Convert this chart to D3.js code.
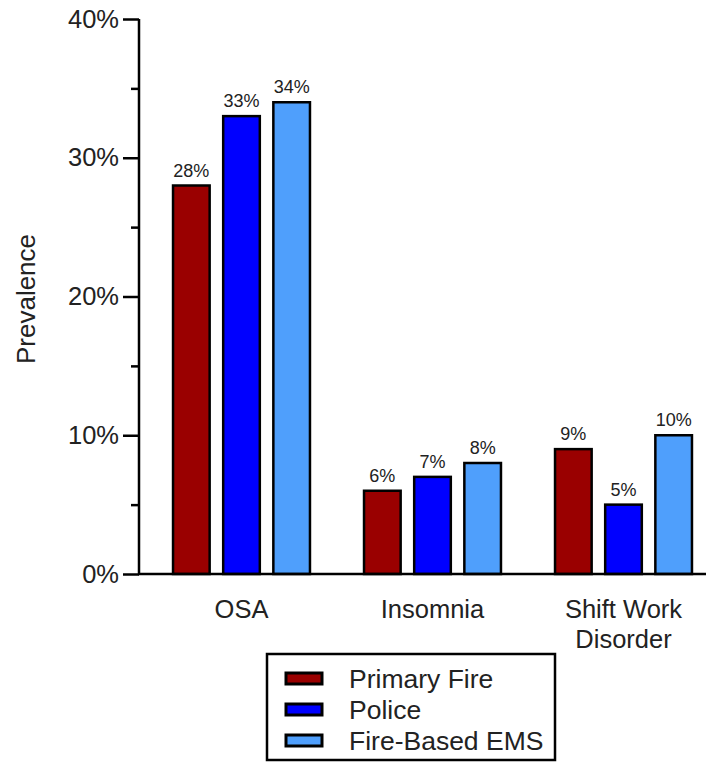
<!DOCTYPE html>
<html><head><meta charset="utf-8">
<script src="https://cdn.jsdelivr.net/npm/d3@7"></script>
<style>body{margin:0;background:#fff;} text{font-family:"Liberation Sans",Arial,sans-serif;fill:#222;}</style>
</head><body><svg id="c" width="706" height="762"></svg>
<script>
const categories = ["OSA", "Insomnia", "Shift Work Disorder"];
const categoryLines = [["OSA"], ["Insomnia"], ["Shift Work", "Disorder"]];
const series = ["Primary Fire", "Police", "Fire-Based EMS"];
const primaryFire = [28, 6, 9];
const police = [33, 7, 5];
const fireBasedEMS = [34, 8, 10];
const colors = ["#9a0000", "#0000ff", "#4f9ffc"];
const yTicks = [0, 10, 20, 30, 40];
const yMinorTicks = [5, 15, 25, 35];

const values = [primaryFire, police, fireBasedEMS];
const svg = d3.select("#c");
const y = d3.scaleLinear().domain([0, 40]).range([574, 19]);
const x0 = d3.scaleBand().domain(categories).range([146, 719]).paddingInner(0.27).paddingOuter(0.135);
const x1 = d3.scaleBand().domain(series).range([0, x0.bandwidth()]).paddingInner(0.22);

// bars
categories.forEach((c, ci) => {
  series.forEach((s, si) => {
    const v = values[si][ci];
    const bx = x0(c) + x1(s);
    svg.append("rect")
      .attr("x", bx + 1.25).attr("y", y(v))
      .attr("width", x1.bandwidth() - 2.5).attr("height", y(0) - y(v))
      .attr("fill", colors[si]).attr("stroke", "#000").attr("stroke-width", 2.5);
    svg.append("text").attr("x", bx + x1.bandwidth() / 2).attr("y", y(v) - 9)
      .attr("text-anchor", "middle").attr("font-size", 18).text(v + "%");
  });
});

// y axis
const yAxis = d3.axisLeft(y).tickValues(yTicks).tickFormat(d => d + "%").tickSize(16).tickPadding(4);
const gy = svg.append("g").attr("transform", "translate(139,0)").call(yAxis);
gy.select(".domain").attr("stroke", "#000").attr("stroke-width", 2.5).attr("d", `M0,${y(40)}V${y(0)}`);
gy.selectAll(".tick line").attr("stroke", "#000").attr("stroke-width", 2.5);
gy.selectAll(".tick text").attr("font-size", 25.5).attr("fill", "#222").attr("font-family", "Liberation Sans, Arial, sans-serif");
svg.append("g").attr("transform", "translate(139,0)")
  .call(d3.axisLeft(y).tickValues(yMinorTicks).tickSize(8).tickFormat(""))
  .call(g => g.select(".domain").remove())
  .selectAll(".tick line").attr("stroke", "#000").attr("stroke-width", 2.5);

// x axis
svg.append("line").attr("x1", 138).attr("x2", 706).attr("y1", y(0)).attr("y2", y(0))
  .attr("stroke", "#000").attr("stroke-width", 2.5);
categories.forEach((c, ci) => {
  const t = svg.append("text").attr("x", x0(c) + x0.bandwidth() / 2).attr("y", 618)
    .attr("text-anchor", "middle").attr("font-size", 25.5);
  categoryLines[ci].forEach((l, li) => t.append("tspan").attr("x", x0(c) + x0.bandwidth() / 2).attr("dy", li ? 30 : 0).text(l));
});

// y label
svg.append("text").attr("transform", "translate(35,299) rotate(-90)").attr("text-anchor", "middle")
  .attr("font-size", 26).text("Prevalence");

// legend
const lg = svg.append("g");
lg.append("rect").attr("x", 267).attr("y", 654).attr("width", 288).attr("height", 106)
  .attr("fill", "none").attr("stroke", "#000").attr("stroke-width", 2.5);
series.forEach((s, si) => {
  const cy = 678.5 + si * 31;
  lg.append("rect").attr("x", 286).attr("y", cy - 5.5).attr("width", 36).attr("height", 11)
    .attr("fill", colors[si]).attr("stroke", "#000").attr("stroke-width", 3);
  lg.append("text").attr("x", 349).attr("y", cy + 9).attr("font-size", 26.5).text(s);
});
</script></body></html>
